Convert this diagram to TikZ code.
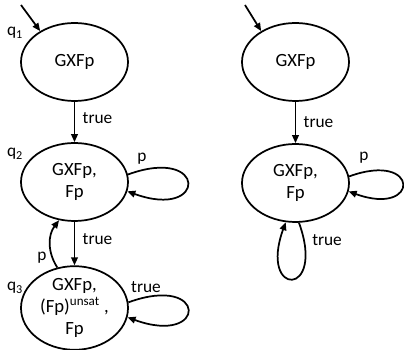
\documentclass[tikz,border=0pt]{standalone}
\usepackage{fontspec}
\setmainfont{Carlito}
\usetikzlibrary{shapes.geometric,arrows.meta}
\begin{document}
\begin{tikzpicture}[x=0.75pt,y=0.75pt,
  state/.style={ellipse,draw,line width=1.3pt,minimum width=80.25pt,minimum height=58.5pt,
    inner sep=0pt,align=center,font=\fontsize{14}{16.5}\selectfont},
  edge/.style={line width=1.3pt,-{Triangle[length=6pt,width=5pt]}},
  lbl/.style={font=\fontsize{13}{15}\selectfont,inner sep=0pt},
]
\useasboundingbox (0,0) rectangle (404,350);

% left automaton
\node[state] (q1) at (74.5,288) {GXFp};
\node[state] (q2) at (74.5,168) {GXFp,\\Fp};
\node[state] (q3) at (74.5,42) {GXFp,\\(Fp)\textsuperscript{unsat} ,\\Fp};
\node[lbl] (n1) at (15,317) {q\textsubscript{1}};
\node[lbl] (n2) at (15,196) {q\textsubscript{2}};
\node[lbl] (n3) at (15,62) {q\textsubscript{3}};

\coordinate (s1) at (21,345);
\draw[edge] (s1) -- (q1.138);
\draw[edge] (q1) -- node[lbl,anchor=west,xshift=5.5pt,pos=0.4] {true} (q2);
\draw[edge] (q2) -- node[lbl,anchor=west,xshift=5.5pt,pos=0.4] {true} (q3);
\draw[edge] (q3.113) to[bend left=35] (q2.248);
\node[lbl] (p32) at (42,92) {p};
\draw[edge] (q2.8) .. controls +(20:85) and +(-20:85) .. (q2.-10);
\node[lbl] (p22) at (142,191) {p};
\draw[edge] (q3.6) .. controls +(20:85) and +(-20:85) .. (q3.-10);
\node[lbl] (t33) at (146,63) {true};

% right automaton
\node[state] (r1) at (295.5,288) {GXFp};
\node[state] (r2) at (295.5,167) {GXFp,\\Fp};
\coordinate (s2) at (245,345);
\draw[edge] (s2) -- (r1.138);
\draw[edge] (r1) -- node[lbl,anchor=west,xshift=5.5pt,pos=0.5] {true} (r2);
\draw[edge] (r2.7) .. controls +(20:76) and +(-20:76) .. (r2.-9);
\node[lbl] (pr) at (364,192) {p};
\draw[edge] (r2.275) .. controls +(-70:80) and +(-110:80) .. (r2.256);
\node[lbl,anchor=west] (tr) at (312,110) {true};
\end{tikzpicture}
\end{document}
